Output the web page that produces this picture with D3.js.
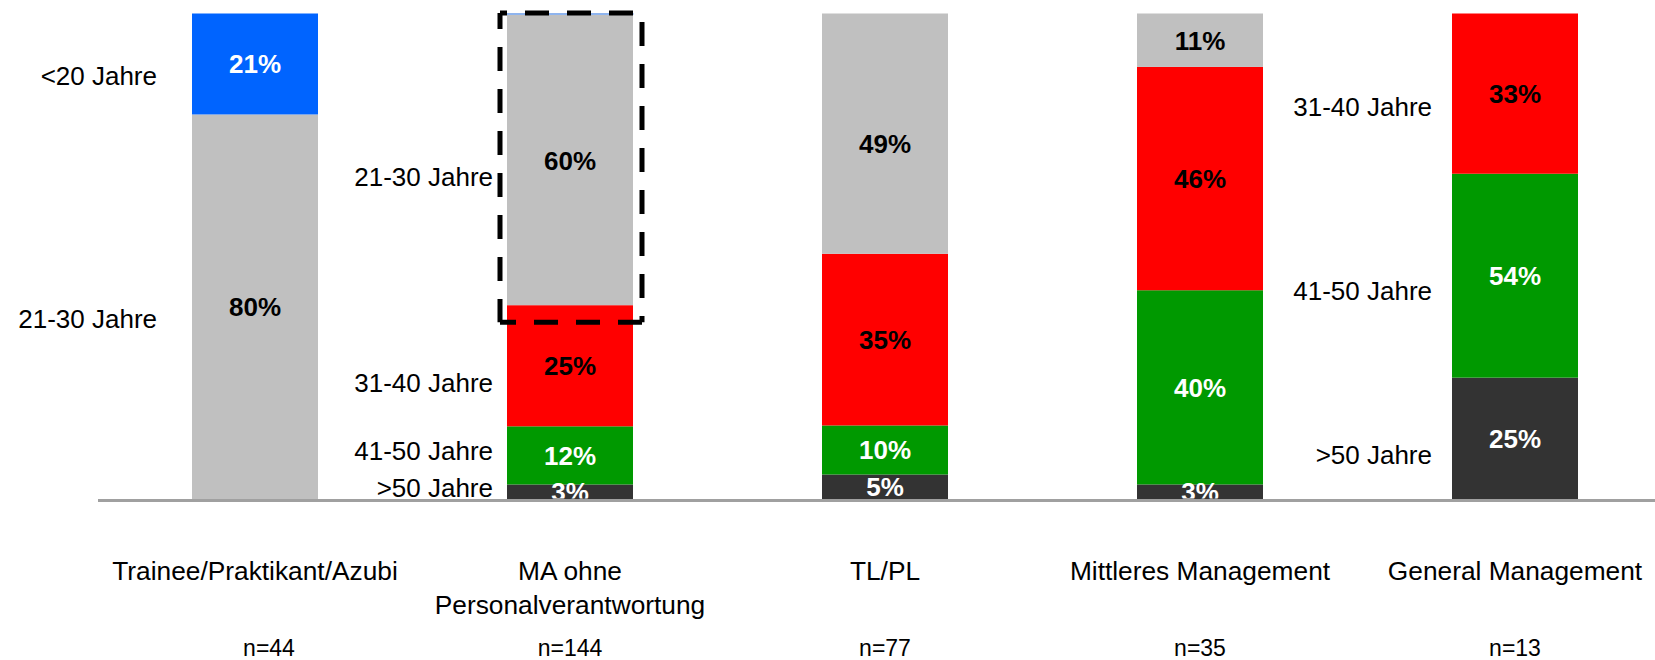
<!DOCTYPE html>
<html>
<head>
<meta charset="utf-8">
<script src="https://cdn.jsdelivr.net/npm/d3@7"></script>
<style>
  html, body { margin: 0; padding: 0; background: #ffffff; }
  svg { display: block; }
  text { font-family: "Liberation Sans", Arial, Helvetica, sans-serif; }
</style>
</head>
<body>
<svg id="chart" width="1655" height="660"></svg>
<script>
// ---------------- data ----------------
const categories = ["Trainee/Praktikant/Azubi", "MA ohne Personalverantwortung", "TL/PL", "Mittleres Management", "General Management"];
const categoryLines = [["Trainee/Praktikant/Azubi"], ["MA ohne", "Personalverantwortung"], ["TL/PL"], ["Mittleres Management"], ["General Management"]];
const sampleSizes = [44, 144, 77, 35, 13];
const ageGroups = ["<20 Jahre", "21-30 Jahre", "31-40 Jahre", "41-50 Jahre", ">50 Jahre"];

// segment shares (%) per category, as drawn
const under20  = [21, 0.2, 0, 0, 0];
const age21_30 = [80, 60, 49, 11, 0];
const age31_40 = [0, 25, 35, 46, 33];
const age41_50 = [0, 12, 10, 40, 42];
const over50   = [0, 3, 5, 3, 25];
// printed labels where the printed number differs from the drawn share
const age41_50Printed = [0, 12, 10, 40, 54];

// ---------------- styling ----------------
const seriesKeys = ["over50", "age41_50", "age31_40", "age21_30", "under20"]; // bottom -> top
const seriesInfo = {
  under20:  {name: ageGroups[0], values: under20,  printed: under20,  fill: "#0064ff", text: "#ffffff"},
  age21_30: {name: ageGroups[1], values: age21_30, printed: age21_30, fill: "#c0c0c0", text: "#000000"},
  age31_40: {name: ageGroups[2], values: age31_40, printed: age31_40, fill: "#ff0000", text: "#000000"},
  age41_50: {name: ageGroups[3], values: age41_50, printed: age41_50Printed, fill: "#009900", text: "#ffffff"},
  over50:   {name: ageGroups[4], values: over50,   printed: over50,   fill: "#333333", text: "#ffffff"}
};
// small vertical nudges (px) of value labels: key -> per-bar offset
const valueLabelNudge = {age21_30: [0, 1, 10, 0, 0]};

// age-group annotations beside selected bars (gap to bar, vertical nudge from segment centre)
const ageAnnotations = [
  {bar: 0, gap: 35, items: [["under20", 12], ["age21_30", 12]]},
  {bar: 1, gap: 14, items: [["age21_30", 17], ["age31_40", 17], ["age41_50", -5], ["over50", -4]]},
  {bar: 4, gap: 20, items: [["age31_40", 13.5], ["age41_50", 14.5], ["over50", 16.5]]}
];

const W = 1655, H = 660;
const svg = d3.select("#chart");

const table = categories.map((c, i) => {
  const row = {category: c, index: i};
  seriesKeys.forEach(k => row[k] = seriesInfo[k].values[i]);
  return row;
});

const stack = d3.stack().keys(seriesKeys).offset(d3.stackOffsetExpand);
const stacked = stack(table);

const x = d3.scaleBand()
  .domain(categories)
  .range([97.5, 1672.5])
  .paddingInner(0.6)
  .paddingOuter(0.3);

const y = d3.scaleLinear().domain([0, 1]).range([499, 13.5]);

// clip for value labels (text cut at the baseline)
svg.append("defs").append("clipPath").attr("id", "plotClip")
  .append("rect").attr("x", 0).attr("y", 0).attr("width", W).attr("height", 498.5);

// bars
const layers = svg.append("g").selectAll("g.layer")
  .data(stacked).join("g")
  .attr("class", "layer")
  .attr("fill", d => seriesInfo[d.key].fill);

layers.selectAll("rect")
  .data(d => d.map(s => ({s, key: d.key})))
  .join("rect")
  .attr("x", d => x(d.s.data.category))
  .attr("width", x.bandwidth())
  .attr("y", d => y(d.s[1]))
  .attr("height", d => Math.max(0, y(d.s[0]) - y(d.s[1])))
  .attr("stroke", d => d.key === "under20" && d.s[1] - d.s[0] < 0.01 && d.s[1] - d.s[0] > 0 ? "#8fb4ee" : "none")
  .attr("stroke-width", 1);

// value labels
const labelG = svg.append("g").attr("clip-path", "url(#plotClip)");
stacked.forEach(layer => {
  const info = seriesInfo[layer.key];
  const nudges = valueLabelNudge[layer.key] || [];
  layer.forEach((s, i) => {
    const printed = info.printed[i];
    if (!printed || info.values[i] < 1) return;
    labelG.append("text")
      .attr("x", x(s.data.category) + x.bandwidth() / 2)
      .attr("y", (y(s[0]) + y(s[1])) / 2 + (nudges[i] || 0))
      .attr("dy", "0.36em")
      .attr("text-anchor", "middle")
      .attr("font-size", 26)
      .attr("font-weight", "bold")
      .attr("fill", info.text)
      .text(printed + "%");
  });
});

// baseline (x axis domain)
const axis = svg.append("g")
  .attr("transform", `translate(0, ${y(0) + 1})`)
  .call(d3.axisBottom(x).tickSize(0).tickSizeOuter(0).tickFormat(""));
axis.select(".domain").attr("stroke", "#a0a0a0").attr("stroke-width", 3);

// dashed highlight box around the 21-30 segment of bar 2
(function () {
  const cat = categories[1];
  const layer21 = stacked.find(l => l.key === "age21_30");
  const seg = layer21[1];
  const x0 = x(cat) - 7, x1 = x(cat) + x.bandwidth() + 9;
  const y0 = y(1) - 0.5, y1 = y(seg[0]) + 17;
  const box = svg.append("g").attr("stroke", "#000").attr("stroke-width", 5)
    .attr("fill", "none").attr("stroke-dasharray", "24 18");
  box.append("line").attr("x1", x0).attr("y1", y0).attr("x2", x1).attr("y2", y0).attr("stroke-dashoffset", 17);
  box.append("line").attr("x1", x0).attr("y1", y0).attr("x2", x0).attr("y2", y1).attr("stroke-dashoffset", 8);
  box.append("line").attr("x1", x1).attr("y1", y0).attr("x2", x1).attr("y2", y1).attr("stroke-dashoffset", 33);
  box.append("line").attr("x1", x1).attr("y1", y1).attr("x2", x0).attr("y2", y1).attr("stroke-dashoffset", 0);
})();

// age group annotations
ageAnnotations.forEach(a => {
  const cat = categories[a.bar];
  a.items.forEach(([key, nudge]) => {
    const layer = stacked.find(l => l.key === key);
    const s = layer[a.bar];
    svg.append("text")
      .attr("x", x(cat) - a.gap)
      .attr("y", (y(s[0]) + y(s[1])) / 2 + nudge)
      .attr("dy", "0.36em")
      .attr("text-anchor", "end")
      .attr("font-size", 26)
      .attr("fill", "#000")
      .text(seriesInfo[key].name);
  });
});

// category labels
categories.forEach((c, i) => {
  const t = svg.append("text")
    .attr("x", x(c) + x.bandwidth() / 2)
    .attr("y", 580)
    .attr("text-anchor", "middle")
    .attr("font-size", 26.3)
    .attr("fill", "#000");
  categoryLines[i].forEach((line, j) => {
    t.append("tspan")
      .attr("x", x(c) + x.bandwidth() / 2)
      .attr("dy", j === 0 ? 0 : 34)
      .text(line);
  });
});

// sample sizes
categories.forEach((c, i) => {
  svg.append("text")
    .attr("x", x(c) + x.bandwidth() / 2 + (i === 0 ? 14 : 0))
    .attr("y", 656)
    .attr("text-anchor", "middle")
    .attr("font-size", 23)
    .attr("fill", "#000")
    .text("n=" + sampleSizes[i]);
});
</script>
</body>
</html>
